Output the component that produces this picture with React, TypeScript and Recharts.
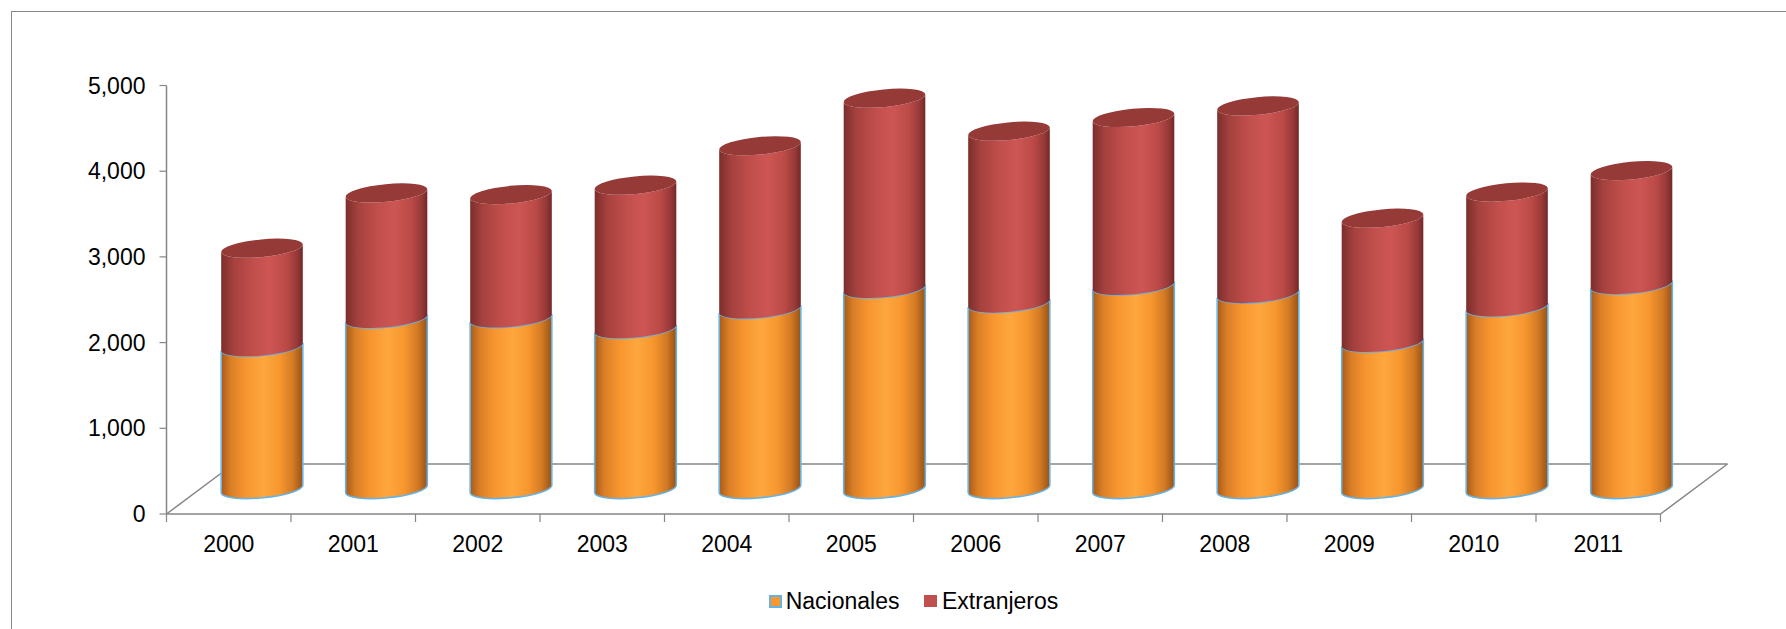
import React from 'react';
import { BarChart, Bar, XAxis, YAxis, ReferenceArea, Legend } from 'recharts';

const years = ['2000', '2001', '2002', '2003', '2004', '2005', '2006', '2007', '2008', '2009', '2010', '2011'];
const nacionales = [1660, 1990, 1995, 1870, 2100, 2340, 2170, 2375, 2280, 1710, 2125, 2385];
const extranjeros = [1150, 1465, 1440, 1675, 1905, 2220, 2005, 1960, 2190, 1450, 1340, 1330];
const yTicks = [0, 1000, 2000, 3000, 4000, 5000];
const seriesNames = ['Nacionales', 'Extranjeros'];

const data = years.map((y, i) => ({ year: y, Nacionales: nacionales[i], Extranjeros: extranjeros[i] }));

const W = 1786;
const H = 629;
const FONT = '"Liberation Sans", Arial, sans-serif';
const AXIS = '#868686';
const DX = 67; // depth projection of the floor
const DY = -50;
const RY = 8.8;
const TILT = -5.5;
const BLUE = '#67b2e2';

function cylPath(cx: number, rx: number, yt: number, yb: number) {
  const t = (TILT * Math.PI) / 180;
  const ax = rx * Math.cos(t);
  const ay = rx * Math.sin(t);
  const Lt = `${cx - ax},${yt - ay}`;
  const Rt = `${cx + ax},${yt + ay}`;
  const Lb = `${cx - ax},${yb - ay}`;
  const Rb = `${cx + ax},${yb + ay}`;
  return `M${Lt} L${Lb} A${rx} ${RY} ${TILT} 0 0 ${Rb} L${Rt} A${rx} ${RY} ${TILT} 0 1 ${Lt} Z`;
}

const NacShape = (props: any) => {
  const { x, y, width, height } = props;
  if (width == null || height == null) return null;
  const rx = width / 2;
  const cx = x + rx + DX / 2;
  const yt = y + DY / 2;
  const yb = y + height + DY / 2;
  return (
    <path d={cylPath(cx, rx, yt, yb)} fill="url(#gradNac)" stroke={BLUE} strokeWidth={1.6} />
  );
};

const ExtShape = (props: any) => {
  const { x, y, width, height } = props;
  if (width == null || height == null) return null;
  const rx = width / 2;
  const cx = x + rx + DX / 2;
  const yt = y + DY / 2;
  const yb = y + height + DY / 2;
  return (
    <g>
      <path d={cylPath(cx, rx, yt, yb)} fill="url(#gradExt)" />
      <ellipse cx={cx} cy={yt} rx={rx} ry={RY} transform={`rotate(${TILT} ${cx} ${yt})`} fill="#953a37" />
    </g>
  );
};

const Floor = (p: any) => {
  const { x, y, width, height } = p;
  const by = y + height;
  return (
    <g stroke={AXIS} strokeWidth={1.5} fill="none">
      <line x1={x} y1={by} x2={x + DX} y2={by + DY} />
      <line x1={x + DX} y1={by + DY} x2={x + width + DX} y2={by + DY} />
      <line x1={x + width} y1={by} x2={x + width + DX} y2={by + DY} />
    </g>
  );
};

const XTick = (props: any) => {
  const { x, y, payload, index, visibleTicksCount, width } = props;
  const half =
    payload && typeof payload.offset === 'number' && payload.offset > 0
      ? payload.offset
      : width / visibleTicksCount / 2;
  const axisY = y - 8;
  return (
    <g>
      <line x1={x - half} x2={x - half} y1={axisY} y2={axisY + 8} stroke={AXIS} strokeWidth={1.2} />
      {index === visibleTicksCount - 1 && (
        <line x1={x + half} x2={x + half} y1={axisY} y2={axisY + 8} stroke={AXIS} strokeWidth={1.2} />
      )}
      <text x={x} y={axisY + 30} textAnchor="middle" dominantBaseline="central" fontSize={23} fontFamily={FONT} fill="#000">
        {payload.value}
      </text>
    </g>
  );
};

const renderLegend = () => (
  <div
    style={{
      display: 'flex',
      justifyContent: 'center',
      alignItems: 'center',
      height: 26,
      fontFamily: FONT,
      fontSize: 23,
      color: '#000',
      lineHeight: '26px',
    }}
  >
    <span style={{ display: 'inline-block', width: 9, height: 9, background: '#f8982f', border: `2px solid ${BLUE}`, marginRight: 4 }} />
    <span style={{ marginRight: 25 }}>{seriesNames[0]}</span>
    <span style={{ display: 'inline-block', width: 12.5, height: 12.5, background: '#c0504d', marginRight: 5 }} />
    <span>{seriesNames[1]}</span>
  </div>
);

export default function App() {
  return (
    <div
      style={{
        position: 'absolute',
        left: 0,
        top: 0,
        width: W,
        height: H,
        overflow: 'hidden',
        background: '#fff',
        fontFamily: FONT,
      }}
    >
      <div
        style={{
          position: 'absolute',
          left: 11,
          top: 11,
          width: W,
          height: H,
          borderLeft: '1.5px solid #878787',
          borderTop: '1.5px solid #878787',
        }}
      />
      <div style={{ position: 'absolute', left: 0, top: 0 }}>
        <BarChart
          width={W}
          height={H}
          data={data}
          margin={{ top: 85.5, right: 125.5, bottom: 85, left: 0 }}
          barSize={82}
        >
          <defs>
            <linearGradient id="gradNac" x1="0" y1="0" x2="1" y2="0">
              <stop offset="0" stopColor="#a85b19" />
              <stop offset="0.12" stopColor="#da7f27" />
              <stop offset="0.3" stopColor="#f8952f" />
              <stop offset="0.52" stopColor="#fea73e" />
              <stop offset="0.72" stopColor="#f7962e" />
              <stop offset="0.88" stopColor="#d27a24" />
              <stop offset="1" stopColor="#985216" />
            </linearGradient>
            <linearGradient id="gradExt" x1="0" y1="0" x2="1" y2="0">
              <stop offset="0" stopColor="#7c2e2c" />
              <stop offset="0.15" stopColor="#a5413e" />
              <stop offset="0.4" stopColor="#c24f4c" />
              <stop offset="0.6" stopColor="#cd5653" />
              <stop offset="0.8" stopColor="#bb4a47" />
              <stop offset="0.93" stopColor="#973938" />
              <stop offset="1" stopColor="#722927" />
            </linearGradient>
          </defs>
          <XAxis
            dataKey="year"
            height={30}
            interval={0}
            tickLine={false}
            tickSize={8}
            tickMargin={0}
            axisLine={{ stroke: AXIS, strokeWidth: 1.5 }}
            tick={(p: any) => <XTick {...p} />}
          />
          <YAxis
            width={166.5}
            domain={[0, 5000]}
            ticks={yTicks}
            interval={0}
            tickFormatter={(v: number) => v.toLocaleString('en-US')}
            tickSize={7}
            tickMargin={14}
            axisLine={{ stroke: AXIS, strokeWidth: 1.5 }}
            tickLine={{ stroke: AXIS, strokeWidth: 1.2 }}
            tick={{ fill: '#000', fontSize: 23, fontFamily: FONT }}
          />
          <ReferenceArea y1={0} y2={5000} shape={(p: any) => <Floor {...p} />} ifOverflow="visible" />
          <Bar dataKey="Nacionales" stackId="a" shape={(p: any) => <NacShape {...p} />} isAnimationActive={false} />
          <Bar dataKey="Extranjeros" stackId="a" shape={(p: any) => <ExtShape {...p} />} isAnimationActive={false} />
          <Legend
            verticalAlign="middle"
            align="center"
            layout="horizontal"
            wrapperStyle={{ top: 588, left: 166.5, width: 1494, height: 26 }}
            content={renderLegend}
          />
        </BarChart>
      </div>
    </div>
  );
}
